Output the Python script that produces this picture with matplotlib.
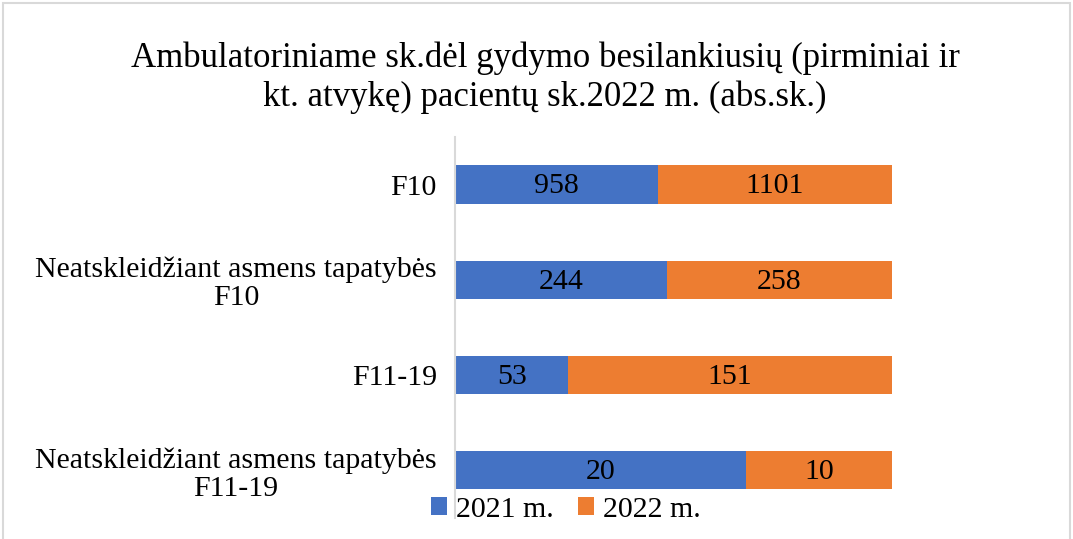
import numpy as np
import matplotlib.pyplot as plt

plt.rcParams['font.family'] = ['Liberation Serif', 'DejaVu Serif']

# Data
categories = ['F10', 'Neatskleidžiant asmens tapatybės\nF10', 'F11-19',
              'Neatskleidžiant asmens tapatybės\nF11-19']
v2021 = np.array([958, 244, 53, 20])
v2022 = np.array([1101, 258, 151, 10])
series_names = ['2021 m.', '2022 m.']
colors = ['#4472c4', '#ed7d31']
title = 'Ambulatoriniame sk.dėl gydymo besilankiusių (pirminiai ir\nkt. atvykę) pacientų sk.2022 m. (abs.sk.)'

tot = v2021 + v2022
p21 = v2021 / tot
p22 = v2022 / tot

fig = plt.figure(figsize=(10.73, 5.39), dpi=100)
ax = fig.add_axes([0.424, 0.039, 0.407, 0.707])

y = np.arange(len(categories))
b1 = ax.barh(y, p21, height=0.4, color=colors[0], label=series_names[0])
b2 = ax.barh(y, p22, left=p21, height=0.4, color=colors[1], label=series_names[1])

for vals, lefts, fr in [(v2021, np.zeros(4), p21), (v2022, p21, p22)]:
    for i, v in enumerate(vals):
        ax.text(lefts[i] + fr[i] / 2, y[i] + 0.02, str(v), ha='center', va='center',
                fontsize=21.5, color='black')

ax.set_xlim(0, 1)
ax.set_ylim(len(categories) - 0.5, -0.5)
ax.set_yticks(y)
ax.set_yticklabels(categories, fontsize=21.5, multialignment='center', linespacing=1.12)
ax.tick_params(axis='y', length=0, pad=13)
ax.set_xticks([])
for s in ['top', 'right', 'bottom']:
    ax.spines[s].set_visible(False)
ax.spines['left'].set_color('#d9d9d9')
ax.spines['left'].set_linewidth(1.5)

fig.text(0.508, 0.856, title, ha='center', va='center', fontsize=25, linespacing=1.2)

fig.legend(loc='center', bbox_to_anchor=(566 / 1073, 1 - 510 / 539), ncol=2,
           frameon=False, fontsize=21.5, handlelength=0.55, handleheight=0.55,
           handletextpad=0.3, columnspacing=0.8)

# border
fig.patches.append(plt.Rectangle((0.003, -0.01), 0.994, 1.004, transform=fig.transFigure,
                                 fill=False, edgecolor='#d9d9d9', linewidth=1.5))

fig.savefig('out.png', dpi=100)
